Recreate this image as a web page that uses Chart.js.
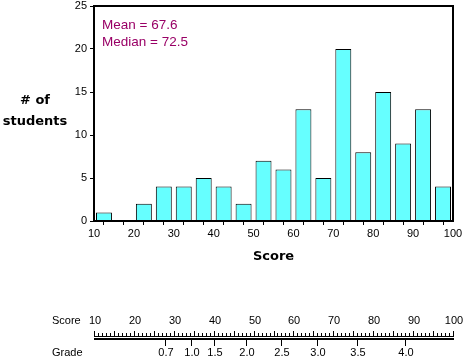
<!DOCTYPE html>
<html>
<head>
<meta charset="utf-8">
<script src="https://cdn.jsdelivr.net/npm/chart.js@4/dist/chart.umd.min.js"></script>
<style>
  body { margin: 0; background: #fff; }
  #wrap { width: 466px; height: 361px; }
</style>
</head>
<body>
<div id="wrap"><canvas id="scoreChart" width="466" height="361"></canvas></div>
<script>
// histogram bins (start of each 5-point bin) and number of students in each
const binStarts = [10, 15, 20, 25, 30, 35, 40, 45, 50, 55, 60, 65, 70, 75, 80, 85, 90, 95];
const studentCounts = [1, 0, 2, 4, 4, 5, 4, 2, 7, 6, 13, 5, 20, 8, 15, 9, 13, 4];
const binWidth = 5;

const meanScore = 67.6;
const medianScore = 72.5;

// grade scale under the score ruler
const gradeLabels = ["0.7", "1.0", "1.5", "2.0", "2.5", "3.0", "3.5", "4.0"];
const gradeScores = [27.8, 34.2, 40, 48, 57, 66, 76, 88];

const tickFont = { family: "Liberation Sans", size: 11 };
const titleFont = { family: "DejaVu Sans", size: 13, weight: "bold" };

const bars = binStarts.map((b, i) => ({ x: b + binWidth / 2, y: studentCounts[i] }));

const extras = {
  id: "extras",
  afterDatasetsDraw(chart) {
    // frame round the plot area
    const { ctx, chartArea: a } = chart;
    ctx.save();
    ctx.strokeStyle = "#000";
    ctx.lineWidth = 2;
    ctx.strokeRect(a.left, a.top, a.right - a.left, a.bottom - a.top);
    ctx.restore();
  },
  afterDraw(chart) {
    const ctx = chart.ctx;
    const x = chart.scales.x;
    ctx.save();

    // mean / median note
    ctx.fillStyle = "#990066";
    ctx.font = "13.5px 'Liberation Sans'";
    ctx.textAlign = "left";
    ctx.textBaseline = "middle";
    ctx.fillText("Mean = " + meanScore, 102, 25);
    ctx.fillText("Median = " + medianScore, 102, 42);

    // y axis title, horizontal
    ctx.fillStyle = "#000";
    ctx.font = "bold 13px 'DejaVu Sans'";
    ctx.textAlign = "center";
    ctx.fillText("# of", 35, 101);
    ctx.fillText("students", 35, 122);

    // score ruler
    ctx.font = "11px 'Liberation Sans'";
    ctx.textAlign = "left";
    ctx.fillText("Score", 52, 321);
    ctx.fillText("Grade", 52, 353);
    ctx.textAlign = "center";
    const x0 = x.getPixelForValue(10);
    const x1 = x.getPixelForValue(100);
    ctx.fillRect(x0, 336, x1 - x0 + 1, 1);
    ctx.fillRect(x0, 338, x1 - x0 + 1, 2);
    for (let v = 10; v <= 100; v++) {
      const px = Math.round(x.getPixelForValue(v));
      const top = v % 5 === 0 ? 331 : 333;
      ctx.fillRect(px, top, 1, 336 - top);
      if (v % 10 === 0) ctx.fillText(String(v), px + 1, 321);
    }
    gradeScores.forEach((s, i) => {
      const px = Math.round(x.getPixelForValue(s));
      ctx.fillRect(px, 340, 1, 6);
      ctx.fillText(gradeLabels[i], px + 1, 353);
    });
    ctx.restore();
  }
};

new Chart(document.getElementById("scoreChart"), {
  type: "bar",
  data: {
    datasets: [{
      data: bars,
      backgroundColor: "#66ffff",
      borderColor: "#000",
      borderWidth: 1,
      barPercentage: 0.8,
      categoryPercentage: 1.0
    }]
  },
  options: {
    responsive: false,
    animation: false,
    devicePixelRatio: 1,
    layout: { padding: { left: 0, top: 6, right: 13, bottom: 95 } },
    plugins: { legend: { display: false }, tooltip: { enabled: false } },
    scales: {
      x: {
        type: "linear",
        min: 10,
        max: 100,
        offset: false,
        afterFit(scale) { scale.height = 45; scale.paddingLeft = 0; scale.paddingRight = 0; },
        grid: { drawOnChartArea: false, drawTicks: true, tickLength: 4, color: "#000" },
        border: { display: true, color: "#000", width: 2 },
        ticks: {
          stepSize: 5,
          autoSkip: false,
          maxRotation: 0,
          padding: 2,
          color: "#000",
          font: tickFont,
          callback: (v) => (v % 10 === 0 ? String(v) : "")
        },
        title: { display: true, text: "Score", color: "#000", font: titleFont, padding: { top: 0, bottom: 2 } }
      },
      y: {
        min: 0,
        max: 25,
        afterFit(scale) { scale.width = 94; scale.paddingTop = 0; scale.paddingBottom = 0; },
        grid: { drawOnChartArea: false, drawTicks: true, tickLength: 4, color: "#000" },
        border: { display: true, color: "#000", width: 2 },
        ticks: { stepSize: 5, padding: 3, color: "#000", font: tickFont }
      }
    }
  },
  plugins: [extras]
});
</script>
</body>
</html>
